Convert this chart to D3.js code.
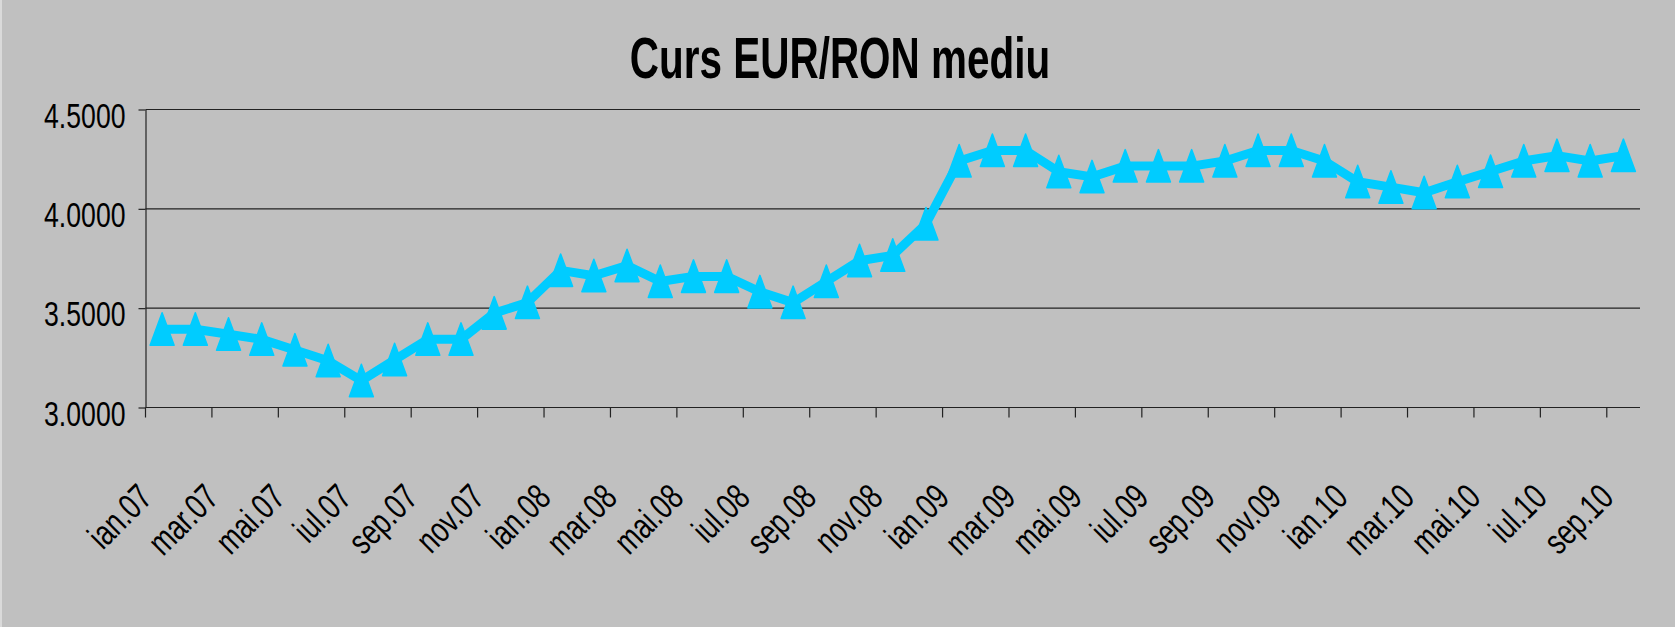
<!DOCTYPE html>
<html>
<head>
<meta charset="utf-8">
<title>Curs EUR/RON mediu</title>
<script src="https://d3js.org/d3.v7.min.js"></script>
<style>
    html, body { margin: 0; padding: 0; background: #c0c0c0; }
    svg { display: block; }
    text { font-family: "Liberation Sans", Arial, sans-serif; fill: #000; }
</style>
</head>
<body>
<svg id="chart" width="1675" height="627"></svg>
<script>
    // monthly average EUR/RON, ian.07 .. sep.10
    const categories = [
        "ian.07","feb.07","mar.07","apr.07","mai.07","iun.07","iul.07","aug.07","sep.07","oct.07","nov.07","dec.07",
        "ian.08","feb.08","mar.08","apr.08","mai.08","iun.08","iul.08","aug.08","sep.08","oct.08","nov.08","dec.08",
        "ian.09","feb.09","mar.09","apr.09","mai.09","iun.09","iul.09","aug.09","sep.09","oct.09","nov.09","dec.09",
        "ian.10","feb.10","mar.10","apr.10","mai.10","iun.10","iul.10","aug.10","sep.10"
    ];
    const values = [
        3.394, 3.394, 3.369, 3.343, 3.289, 3.235, 3.135, 3.240, 3.343, 3.343, 3.475, 3.528,
        3.690, 3.663, 3.714, 3.634, 3.660, 3.660, 3.582, 3.528, 3.634, 3.739, 3.766, 3.924,
        4.241, 4.294, 4.294, 4.187, 4.161, 4.215, 4.215, 4.215, 4.241, 4.294, 4.294, 4.241,
        4.136, 4.109, 4.081, 4.136, 4.188, 4.241, 4.268, 4.241, 4.268
    ];
    const yTicks = [3.0, 3.5, 4.0, 4.5];
    const title = "Curs EUR/RON mediu";

    const svg = d3.select("#chart");
    const margins = { top: 109.5, right: 35, bottom: 219.5, left: 145.5 };
    const width = +svg.attr("width");
    const height = +svg.attr("height");
    const plotBottom = height - margins.bottom;
    const plotRight = width - margins.right;

    svg.append("rect").attr("width", width).attr("height", height).attr("fill", "#c0c0c0");
    svg.append("rect").attr("width", 2).attr("height", height).attr("fill", "#dadada");

    const x = d3.scaleBand().domain(categories).range([margins.left, plotRight]).padding(0);
    const y = d3.scaleLinear().domain([3, 4.5]).range([plotBottom, margins.top]);
    const cx = c => x(c) + x.bandwidth() / 2;

    // gridlines
    svg.append("g")
        .selectAll("line")
        .data(yTicks.filter(t => t > 3))
        .enter().append("line")
        .attr("x1", margins.left).attr("x2", plotRight)
        .attr("y1", d => y(d)).attr("y2", d => y(d))
        .attr("stroke", "#222").attr("stroke-width", 1.2);

    // y axis (line + outer ticks), labels drawn separately
    svg.append("g")
        .attr("transform", `translate(${margins.left},0)`)
        .call(d3.axisLeft(y).tickValues(yTicks).tickSize(7).tickSizeOuter(0).tickFormat(""))
        .call(g => g.selectAll("line, path").attr("stroke", "#222").attr("stroke-width", 1.2));

    // x axis: tick every second month boundary
    const xTickCats = categories.filter((c, i) => i % 2 === 0);
    svg.append("g")
        .attr("transform", `translate(0,${plotBottom})`)
        .call(d3.axisBottom(x).tickValues(xTickCats).tickSize(10).tickSizeOuter(0).tickFormat("").offset(0))
        .call(g => g.selectAll(".tick").attr("transform", d => `translate(${x(d)},0)`))
        .call(g => g.selectAll("line, path").attr("stroke", "#222").attr("stroke-width", 1.2));

    // y labels
    svg.append("g")
        .selectAll("text")
        .data(yTicks)
        .enter().append("text")
        .attr("transform", d => `translate(${margins.left - 20},${y(d) + 18}) scale(0.74,1)`)
        .attr("text-anchor", "end")
        .attr("font-size", 36)
        .text(d => d3.format(".4f")(d));

    // x labels
    svg.append("g")
        .selectAll("text")
        .data(xTickCats)
        .enter().append("text")
        .attr("transform", d => `translate(${cx(d) - 8},${plotBottom + 92}) rotate(-45) scale(0.74,1)`)
        .attr("text-anchor", "end")
        .attr("font-size", 36)
        .text(d => d);

    // series line
    const line = d3.line().x((d, i) => cx(categories[i])).y(d => y(d));
    svg.append("path")
        .datum(values)
        .attr("d", line)
        .attr("fill", "none")
        .attr("stroke", "#00ccff")
        .attr("stroke-width", 9)
        .attr("stroke-linejoin", "round");

    // triangle markers
    svg.append("g")
        .selectAll("path")
        .data(values)
        .enter().append("path")
        .attr("transform", (d, i) => `translate(${cx(categories[i])},${y(d)})`)
        .attr("d", "M0,-16.5 L12,16 L-12,16 Z")
        .attr("fill", "#00ccff")
        .attr("stroke", "#00ccff")
        .attr("stroke-width", 1.5)
        .attr("stroke-linejoin", "round");

    // title
    svg.append("text")
        .attr("transform", "translate(840,78) scale(0.71,1)")
        .attr("text-anchor", "middle")
        .attr("font-size", 57)
        .attr("font-weight", "bold")
        .text(title);
</script>
</body>
</html>
